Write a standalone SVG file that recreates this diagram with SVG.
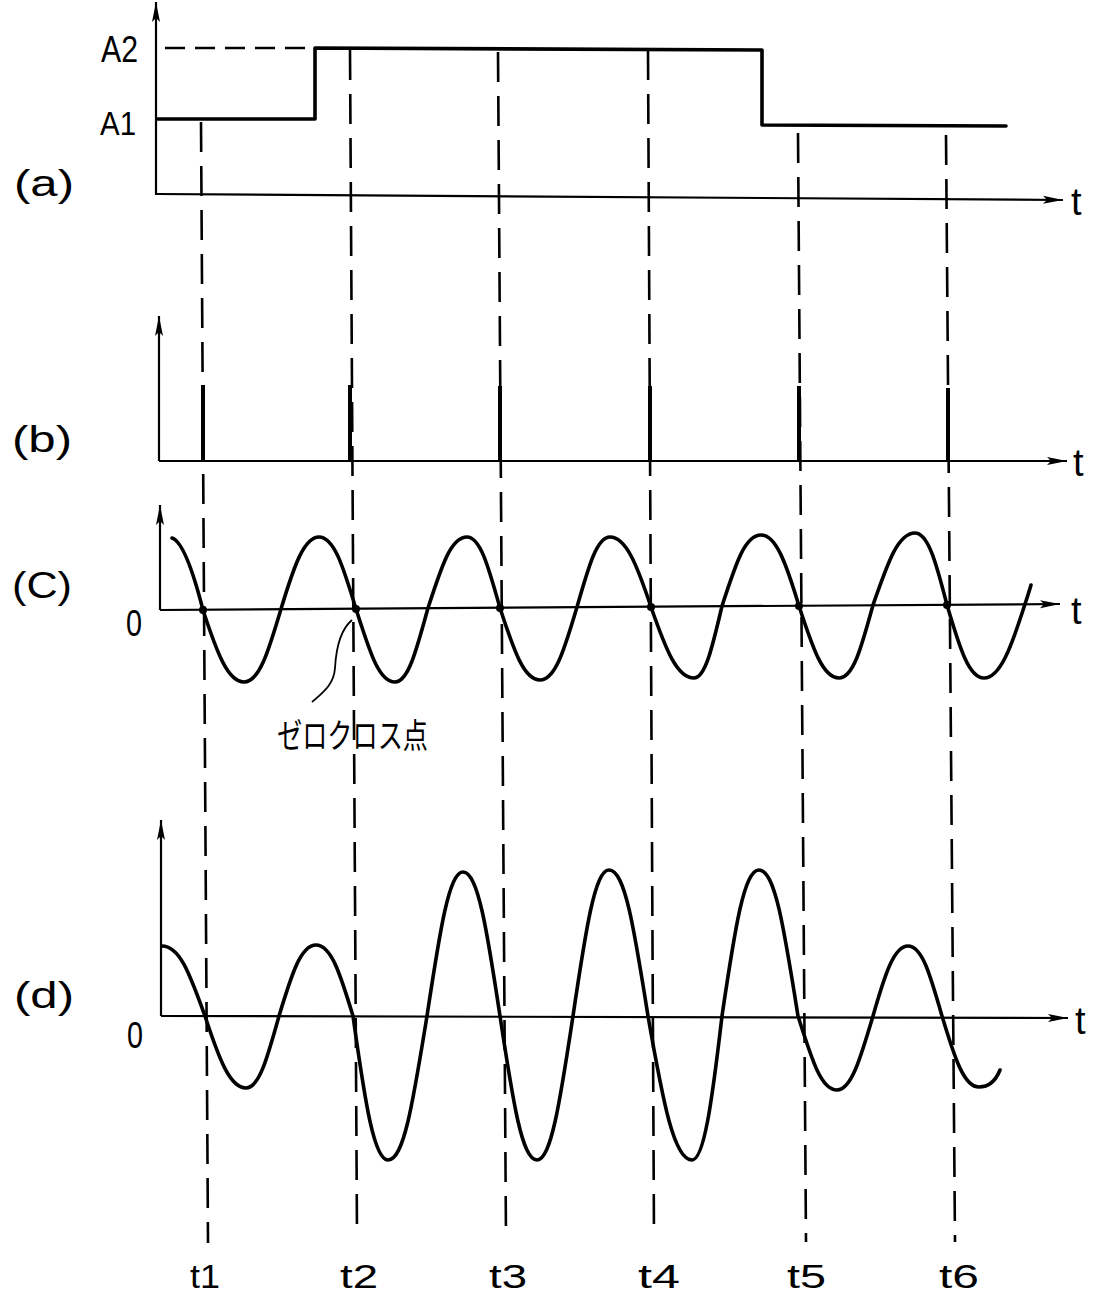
<svg xmlns="http://www.w3.org/2000/svg" width="1104" height="1297" viewBox="0 0 1104 1297">
<style>
.axis{fill:none;stroke:#000;stroke-width:2.2}
.sig{fill:none;stroke:#000;stroke-width:3.6;stroke-linejoin:round;stroke-linecap:round}
.dash{fill:none;stroke:#000;stroke-width:2.6;stroke-dasharray:30 14}
.lbl{font-family:"Liberation Sans","DejaVu Sans",sans-serif;fill:#000}
.jp{font-family:"Noto Sans CJK JP","Liberation Sans",sans-serif;fill:#000}
</style>
<defs>
<marker id="arr" markerUnits="userSpaceOnUse" markerWidth="24" markerHeight="12" refX="20" refY="5" orient="auto">
<path d="M0,1 L20,5 L0,9 L4,5 Z" fill="#000"/>
</marker>
</defs>
<rect width="1104" height="1297" fill="#fff"/>

<g id="connectors">
<line class="dash" x1="201" y1="122" x2="208" y2="1243"/>
<line class="dash" x1="350" y1="50" x2="357" y2="1235"/>
<line class="dash" x1="498" y1="52" x2="506" y2="1240"/>
<line class="dash" x1="648" y1="50" x2="654" y2="1237"/>
<line class="dash" x1="798" y1="133" x2="806" y2="1242"/>
<line class="dash" x1="946" y1="135" x2="955" y2="1242"/>
</g>

<g id="panel-a">
<text class="lbl" x="14" y="196" font-size="36" textLength="60" lengthAdjust="spacingAndGlyphs">(a)</text>
<text class="lbl" x="101" y="62" font-size="36" textLength="37" lengthAdjust="spacingAndGlyphs">A2</text>
<text class="lbl" x="100" y="135" font-size="34" textLength="36" lengthAdjust="spacingAndGlyphs">A1</text>
<line class="axis" x1="156" y1="195" x2="156" y2="2" marker-end="url(#arr)"/>
<line class="axis" x1="156" y1="194" x2="1063" y2="200" marker-end="url(#arr)"/>
<text class="lbl" x="1071" y="215" font-size="38">t</text>
<line x1="165" y1="48" x2="312" y2="48" stroke="#000" stroke-width="2.6" stroke-dasharray="20 10"/>
<path class="sig" d="M157,119 L315,119 L315,48 L762,50 L762,125 L1006,126"/>
</g>

<g id="panel-b">
<text class="lbl" x="12" y="452" font-size="36" textLength="60" lengthAdjust="spacingAndGlyphs">(b)</text>
<line class="axis" x1="159" y1="461" x2="159" y2="316" marker-end="url(#arr)"/>
<line class="axis" x1="159" y1="461" x2="1067" y2="461" marker-end="url(#arr)"/>
<text class="lbl" x="1073" y="476" font-size="38">t</text>
<g stroke="#000" stroke-width="4">
<line x1="203" y1="461" x2="203" y2="385"/>
<line x1="350" y1="461" x2="350" y2="385"/>
<line x1="500" y1="461" x2="500" y2="386"/>
<line x1="650" y1="461" x2="650" y2="386"/>
<line x1="799" y1="461" x2="799" y2="386"/>
<line x1="948" y1="461" x2="948" y2="388"/>
</g>
</g>

<g id="panel-c">
<text class="lbl" x="12" y="598" font-size="36" textLength="60" lengthAdjust="spacingAndGlyphs">(C)</text>
<text class="lbl" x="126" y="636" font-size="36" textLength="16" lengthAdjust="spacingAndGlyphs">0</text>
<line class="axis" x1="160" y1="610" x2="160" y2="505" marker-end="url(#arr)"/>
<line class="axis" x1="160" y1="610" x2="1060" y2="604" marker-end="url(#arr)"/>
<text class="lbl" x="1071" y="624" font-size="38">t</text>
<path class="sig" d="M172,538 C182,541 192,567 203,610 C217,653 228,682 244,682 C259,682 268,653 281,609 C294,566 304,537 319,537 C334,537 343,566 356,609 C370,653 379,682 395,682 C408,682 416,652 428,608 C442,565 451,537 467,537 C480,537 488,565 500,608 C514,651 524,680 540,680 C555,680 564,651 577,607 C589,565 597,537 610,537 C626,537 637,565 651,607 C666,650 677,678 694,678 C705,678 712,649 722,606 C736,563 745,535 761,535 C776,535 786,563 799,606 C813,649 823,678 839,678 C853,678 861,649 873,605 C888,562 898,533 915,533 C928,533 936,562 947,605 C960,649 969,678 984,678 C1000,678 1011,648 1025,604 C1027,598 1029,592 1031,585"/>
<g fill="#000">
<circle cx="203" cy="610" r="4"/>
<circle cx="356" cy="609" r="4"/>
<circle cx="500" cy="608" r="4"/>
<circle cx="651" cy="607" r="4"/>
<circle cx="799" cy="606" r="4"/>
<circle cx="947" cy="605" r="4"/>
</g>
<path d="M352,620 C340,630 336,650 335,668 C334,685 322,693 312,702" fill="none" stroke="#000" stroke-width="1.8"/>
<text class="jp" x="277" y="748" font-size="34" textLength="151" lengthAdjust="spacingAndGlyphs">ゼロクロス点</text>
</g>

<g id="panel-d">
<text class="lbl" x="14" y="1008" font-size="36" textLength="60" lengthAdjust="spacingAndGlyphs">(d)</text>
<text class="lbl" x="127" y="1048" font-size="36" textLength="16" lengthAdjust="spacingAndGlyphs">0</text>
<line class="axis" x1="161" y1="1016" x2="161" y2="820" marker-end="url(#arr)"/>
<line class="axis" x1="161" y1="1016" x2="1068" y2="1018" marker-end="url(#arr)"/>
<text class="lbl" x="1075" y="1034" font-size="38">t</text>
<path class="sig" d="M162,946 C180,946 190,975 205,1016 C219,1059 230,1088 246,1088 C259,1088 267,1059 279,1016 C292,973 301,945 316,945 C331,945 340,973 353,1016 C365,1102 374,1160 388,1160 C404,1160 413,1102 427,1016 C440,930 449,872 463,872 C478,872 487,930 500,1016 C513,1102 522,1160 537,1160 C551,1160 560,1102 573,1016 C586,928 595,870 609,870 C625,870 634,928 648,1016 C663,1102 674,1160 692,1160 C704,1160 712,1102 722,1016 C735,928 744,870 759,870 C775,870 784,928 798,1016 C812,1060 821,1090 837,1090 C851,1090 860,1060 873,1016 C885,974 894,946 908,946 C922,946 930,974 942,1016 C955,1059 964,1087 979,1087 C990,1087 996,1080 1000,1070"/>
</g>

<g id="time-labels">
<text class="lbl" x="190" y="1288" font-size="33" textLength="30" lengthAdjust="spacingAndGlyphs">t1</text>
<text class="lbl" x="340" y="1288" font-size="33" textLength="38" lengthAdjust="spacingAndGlyphs">t2</text>
<text class="lbl" x="489" y="1288" font-size="33" textLength="38" lengthAdjust="spacingAndGlyphs">t3</text>
<text class="lbl" x="638" y="1288" font-size="33" textLength="42" lengthAdjust="spacingAndGlyphs">t4</text>
<text class="lbl" x="787" y="1288" font-size="33" textLength="39" lengthAdjust="spacingAndGlyphs">t5</text>
<text class="lbl" x="939" y="1288" font-size="33" textLength="40" lengthAdjust="spacingAndGlyphs">t6</text>
</g>
</svg>
